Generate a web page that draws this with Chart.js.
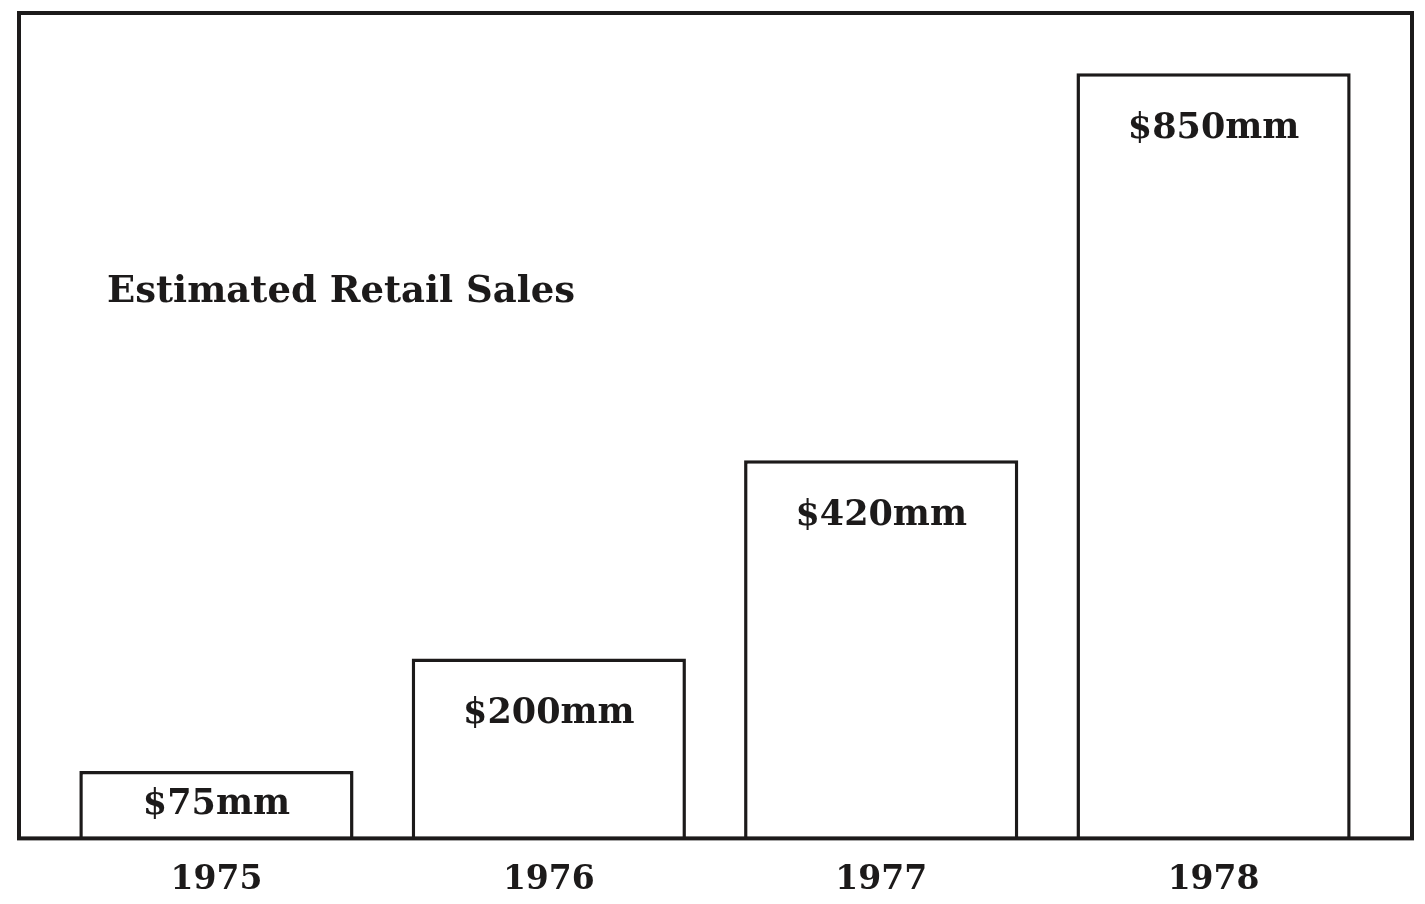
<!DOCTYPE html>
<html>
<head>
<meta charset="utf-8">
<script src="https://cdn.jsdelivr.net/npm/chart.js@4/dist/chart.umd.min.js"></script>
<style>
  html, body { margin: 0; padding: 0; background: #ffffff; }
  #wrap { width: 1425px; height: 904px; position: relative; }
</style>
</head>
<body>
<div id="wrap"><canvas id="c" width="1425" height="904"></canvas></div>
<script>
const years = ['1975', '1976', '1977', '1978'];
const sales = [75, 200, 420, 850];
const valueLabels = ['$75mm', '$200mm', '$420mm', '$850mm'];
const chartTitle = 'Estimated Retail Sales';

const INK = '#1c1a1a';
const FONT = '"DejaVu Serif", serif';

const points = sales.map((v, i) => ({ x: i, y: v }));

const framePlugin = {
  id: 'frame',
  afterDatasetsDraw(chart) {
    const { ctx, chartArea: a } = chart;
    ctx.save();
    ctx.strokeStyle = INK;
    ctx.lineWidth = 4;
    ctx.strokeRect(a.left, a.top, a.right - a.left, a.bottom - a.top);
    ctx.restore();
  }
};

const labelPlugin = {
  id: 'labels',
  afterDatasetsDraw(chart) {
    const { ctx, chartArea: a } = chart;
    const meta = chart.getDatasetMeta(0);
    ctx.save();
    ctx.fillStyle = INK;
    ctx.textAlign = 'center';
    ctx.textBaseline = 'middle';
    ctx.font = 'bold 35px ' + FONT;
    meta.data.forEach((bar, i) => {
      const h = bar.base - bar.y;
      const y = bar.y + Math.min(56, h / 2);
      ctx.fillText(valueLabels[i], bar.x, y);
    });
    ctx.textAlign = 'left';
    ctx.textBaseline = 'alphabetic';
    ctx.font = 'bold 37px ' + FONT;
    ctx.fillText(chartTitle, a.left + 88, a.top + 289);
    ctx.restore();
  }
};

new Chart(document.getElementById('c'), {
  type: 'bar',
  data: {
    datasets: [{
      data: points,
      backgroundColor: '#ffffff',
      borderColor: INK,
      borderWidth: 3.5,
      borderSkipped: 'bottom',
      barPercentage: 0.825,
      categoryPercentage: 1
    }]
  },
  options: {
    responsive: false,
    animation: false,
    layout: { padding: { left: 19, right: 13, top: 13, bottom: -18 } },
    plugins: { legend: { display: false }, tooltip: { enabled: false } },
    scales: {
      x: {
        type: 'linear',
        offset: false,
        min: -0.594,
        max: 3.597,
        grid: { display: false, drawTicks: false, offset: false },
        border: { display: false },
        ticks: {
          stepSize: 1,
          includeBounds: false,
          maxRotation: 0,
          autoSkip: false,
          padding: 22,
          color: INK,
          font: { family: FONT, size: 33, weight: 'bold' },
          callback: (v) => Number.isInteger(v) && years[v] !== undefined ? years[v] : ''
        }
      },
      y: {
        display: false,
        min: 0,
        max: 917
      }
    }
  },
  plugins: [framePlugin, labelPlugin]
});
</script>
</body>
</html>
